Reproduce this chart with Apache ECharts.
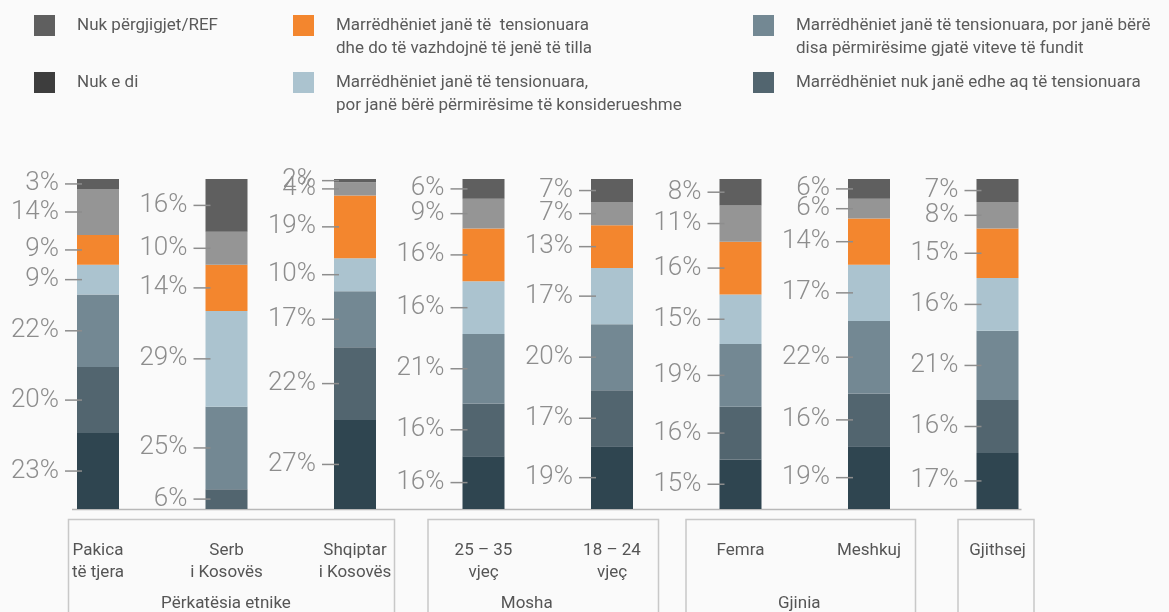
<!DOCTYPE html>
<html>
<head>
<meta charset="utf-8">
<script src="https://cdn.jsdelivr.net/npm/echarts@6/dist/echarts.min.js"></script>
<style>
  html, body { margin: 0; padding: 0; background: #fafafa; }
  #chart { width: 1169px; height: 612px; }
</style>
</head>
<body>
<div id="chart"></div>
<script>
// Categories along the x axis
const categories = [
  'Pakica\ntë tjera', 'Serb\ni Kosovës', 'Shqiptar\ni Kosovës',
  '25 – 35\nvjeç', '18 – 24\nvjeç',
  'Femra', 'Meshkuj',
  'Gjithsej'
];

// Shares in percent, one array per answer (stack order bottom -> top)
const notTense                = [23,  0, 27, 16, 19, 15, 19, 17];
const notSoTense              = [20,  6, 22, 16, 17, 16, 16, 16];
const someImprovement         = [22, 25, 17, 21, 20, 19, 22, 21];
const considerableImprovement = [ 9, 29, 10, 16, 17, 15, 17, 16];
const staysTense              = [ 9, 14, 19, 16, 13, 16, 14, 15];
const dontKnow                = [14, 10,  4,  9,  7, 11,  6,  8];
const refused                 = [ 3, 16,  2,  6,  7,  8,  6,  7];

// Answer names
const nameNotTense      = 'Marrëdhëniet nuk janë të tensionuara';
const nameNotSoTense    = 'Marrëdhëniet nuk janë edhe aq të tensionuara';
const nameSome          = 'Marrëdhëniet janë të tensionuara, por janë bërë disa përmirësime gjatë viteve të fundit';
const nameConsiderable  = 'Marrëdhëniet janë të tensionuara, por janë bërë përmirësime të konsiderueshme';
const nameStays         = 'Marrëdhëniet janë të  tensionuara dhe do të vazhdojnë të jenë të tilla';
const nameDontKnow      = 'Nuk e di';
const nameRefused       = 'Nuk përgjigjet/REF';

// Legend wording as it is broken over lines
const legendText = {
  [nameRefused]: 'Nuk përgjigjet/REF',
  [nameDontKnow]: 'Nuk e di',
  [nameStays]: 'Marrëdhëniet janë të  tensionuara\ndhe do të vazhdojnë të jenë të tilla',
  [nameConsiderable]: 'Marrëdhëniet janë të tensionuara,\npor janë bërë përmirësime të konsiderueshme',
  [nameSome]: 'Marrëdhëniet janë të tensionuara, por janë bërë\ndisa përmirësime gjatë viteve të fundit',
  [nameNotSoTense]: 'Marrëdhëniet nuk janë edhe aq të tensionuara'
};

// Category groups shown in boxes below the axis
const groups = [
  { name: 'Përkatësia etnike', first: 0, last: 2 },
  { name: 'Mosha', first: 3, last: 4 },
  { name: 'Gjinia', first: 5, last: 6 },
  { name: '', first: 7, last: 7 }
];

const FONT = 'Roboto, "Noto Sans", sans-serif';
const LABEL_GREY = '#8d8d8d';
const LEGEND_LINE = 23;
const SWATCH = 21;

const colors = {
  notTense: '#2f4550',
  notSoTense: '#52656f',
  some: '#738893',
  considerable: '#abc3cf',
  stays: '#f3862e',
  dontKnow: '#959595',
  refused: '#5f5f5f'
};

function barSeries(name, data, color) {
  return {
    name: name,
    type: 'bar',
    stack: 'total',
    data: data,
    barWidth: 42,
    itemStyle: { color: color },
    label: {
      show: true,
      position: 'left',
      distance: -5,
      formatter: p => (p.value ? '{v|' + p.value + '%}{l| }' : ''),
      rich: {
        v: {
          fontFamily: FONT,
          fontWeight: 300,
          fontSize: 26,
          color: LABEL_GREY,
          padding: [0, 6, 0, 0],
          verticalAlign: 'middle'
        },
        l: {
          width: 17,
          height: 1.5,
          backgroundColor: LABEL_GREY,
          verticalAlign: 'middle'
        }
      }
    },
    emphasis: { disabled: true }
  };
}

// Legend entries, in columns; swatchTop is the top edge of the colour square
const legendItems = [
  { name: nameRefused, left: 34, swatchTop: 15 },
  { name: nameDontKnow, left: 34, swatchTop: 72, color: '#3d3d3d' },
  { name: nameStays, left: 293, swatchTop: 15 },
  { name: nameConsiderable, left: 293, swatchTop: 72 },
  { name: nameSome, left: 753, swatchTop: 15 },
  { name: nameNotSoTense, left: 753, swatchTop: 72 }
];

const legends = legendItems.map(it => {
  const lines = legendText[it.name].split('\n').length;
  // the icon box spans every text line, with the square drawn in its top part,
  // so the first line of text sits level with the square
  const boxH = SWATCH + (lines - 1) * LEGEND_LINE;
  const icon = 'path://M0,0H' + SWATCH + 'V' + SWATCH + 'H0Z M0,' + boxH + 'L0.001,' + boxH + 'Z';
  const d = { name: it.name, icon: icon, itemStyle: { borderWidth: 0 } };
  if (it.color) d.itemStyle.color = it.color;
  return {
    left: it.left,
    top: it.swatchTop - (LEGEND_LINE - SWATCH) / 2,
    padding: 0,
    orient: 'vertical',
    itemWidth: SWATCH,
    itemHeight: boxH,
    selectedMode: false,
    data: [d],
    formatter: n => legendText[n],
    textStyle: {
      fontFamily: FONT,
      fontSize: 17,
      color: '#5a5a5a',
      lineHeight: LEGEND_LINE,
      padding: [0, 0, 0, 17]
    }
  };
});

const chart = echarts.init(document.getElementById('chart'), null, { renderer: 'canvas' });

chart.setOption({
  backgroundColor: '#fafafa',
  animation: false,
  legend: legends,
  grid: { left: 33.75, width: 1028, top: 179, height: 330, containLabel: false },
  xAxis: {
    type: 'category',
    data: categories,
    axisLine: { show: false },
    axisTick: { show: false },
    axisLabel: {
      margin: 31,
      fontFamily: FONT,
      fontSize: 17,
      lineHeight: 22,
      color: '#555555',
      interval: 0
    }
  },
  yAxis: { type: 'value', min: 0, max: 100, show: false },
  series: [
    barSeries(nameNotTense, notTense, colors.notTense),
    barSeries(nameNotSoTense, notSoTense, colors.notSoTense),
    barSeries(nameSome, someImprovement, colors.some),
    barSeries(nameConsiderable, considerableImprovement, colors.considerable),
    barSeries(nameStays, staysTense, colors.stays),
    barSeries(nameDontKnow, dontKnow, colors.dontKnow),
    barSeries(nameRefused, refused, colors.refused)
  ]
});

// Baseline and the group boxes, placed from the axis scale
const px = i => chart.convertToPixel({ gridIndex: 0 }, [i, 0]);
const baseY = px(0)[1];
const boxPad = [[-30, 39], [-56, 46], [-55, 46], [-40, 36]];
const titleShift = [-5, -16, -1, 0];

const graphics = [{
  type: 'line',
  shape: { x1: px(0)[0] - 26, y1: baseY + 0.5, x2: px(categories.length - 1)[0] + 24, y2: baseY + 0.5 },
  style: { stroke: '#b8b8b8', lineWidth: 1.5 },
  silent: true
}];

groups.forEach((g, k) => {
  const x1 = px(g.first)[0] + boxPad[k][0];
  const x2 = px(g.last)[0] + boxPad[k][1];
  graphics.push({
    type: 'rect',
    shape: { x: x1 + 0.5, y: baseY + 10.5, width: x2 - x1, height: 140 },
    style: { fill: 'none', stroke: '#c8c8c8', lineWidth: 1.5 },
    silent: true
  });
  if (g.name) {
    graphics.push({
      type: 'text',
      x: (x1 + x2) / 2 + titleShift[k],
      y: baseY + 95,
      style: {
        text: g.name,
        fontFamily: FONT,
        fontSize: 17,
        fill: '#555555',
        align: 'center',
        verticalAlign: 'middle'
      },
      silent: true
    });
  }
});

chart.setOption({ graphic: graphics });
</script>
</body>
</html>
